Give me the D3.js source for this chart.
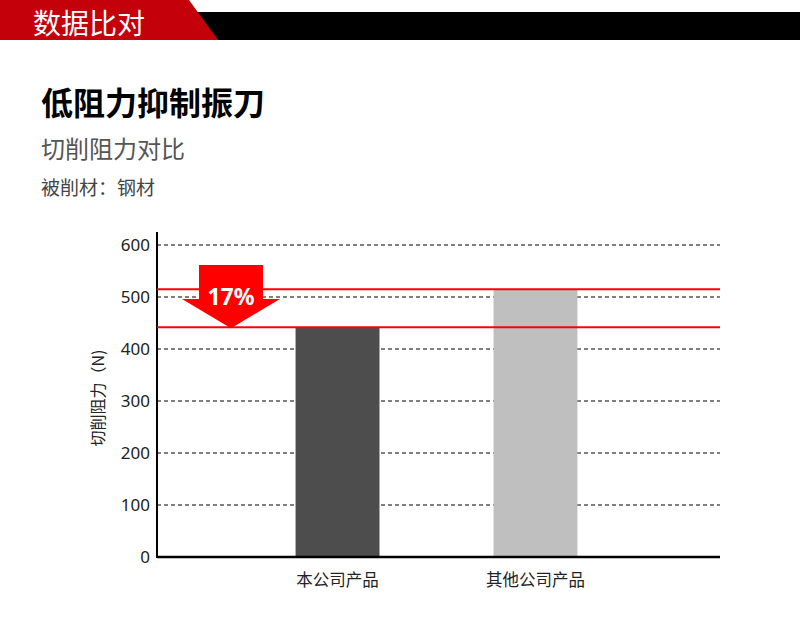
<!DOCTYPE html>
<html>
<head>
<meta charset="utf-8">
<script src="https://cdn.jsdelivr.net/npm/d3@7"></script>
<style>
  body { margin: 0; background: #fff; }
  svg { display: block; font-family: "Noto Sans CJK SC", "Noto Sans", sans-serif; }
</style>
</head>
<body>
<svg id="chart" width="800" height="627"></svg>
<script>
// data
const categories = ['本公司产品', '其他公司产品'];
const values = [442, 515];
const barColors = ['#4d4d4d', '#bfbfbf'];
const yTicks = [0, 100, 200, 300, 400, 500, 600];
const reductionLabel = '17%';

const svg = d3.select('#chart');

// --- header band ---
svg.append('rect').attr('x', 190).attr('y', 12).attr('width', 610).attr('height', 28).attr('fill', '#000');
svg.append('path').attr('d', 'M0,0 L189,0 L218,40 L0,40 Z').attr('fill', '#c4000b');
svg.append('text').attr('x', 33).attr('y', 34)
  .attr('fill', '#fff').attr('font-size', 28).text('数据比对');

// --- titles ---
svg.append('text').attr('x', 41).attr('y', 115)
  .attr('font-size', 32).attr('font-weight', 'bold').attr('fill', '#000').text('低阻力抑制振刀');
svg.append('text').attr('x', 41).attr('y', 158)
  .attr('font-size', 24).attr('fill', '#555').text('切削阻力对比');
svg.append('text').attr('x', 41).attr('y', 195)
  .attr('font-size', 19).attr('fill', '#444').text('被削材：钢材');

// --- chart ---
const plotLeft = 157, plotRight = 720, plotTop = 245, plotBottom = 557;

const y = d3.scaleLinear().domain([0, 600]).range([plotBottom, plotTop]);
const x = d3.scaleBand().domain(categories).range([plotLeft, plotRight - 4])
  .paddingInner(0.576).paddingOuter(0.7);

// gridlines
svg.append('g').selectAll('line').data(yTicks.filter(t => t > 0)).join('line')
  .attr('x1', plotLeft).attr('x2', plotRight)
  .attr('y1', d => y(d)).attr('y2', d => y(d))
  .attr('stroke', '#000').attr('stroke-width', 1).attr('stroke-dasharray', '4,3');

// bars
svg.append('g').selectAll('rect').data(values).join('rect')
  .attr('x', (d, i) => x(categories[i]))
  .attr('width', x.bandwidth())
  .attr('y', d => y(d))
  .attr('height', d => plotBottom - y(d))
  .attr('fill', (d, i) => barColors[i]);

// y axis
const yAxis = d3.axisLeft(y).tickValues(yTicks).tickSize(0).tickPadding(7);
const gy = svg.append('g').attr('transform', `translate(${plotLeft},0)`).call(yAxis);
gy.select('.domain').remove();
gy.selectAll('text').attr('font-size', 17).attr('fill', '#222')
  .attr('font-family', '"Noto Sans", sans-serif');
svg.append('line').attr('x1', plotLeft).attr('x2', plotLeft).attr('y1', 232).attr('y2', plotBottom + 1)
  .attr('stroke', '#000').attr('stroke-width', 2);
svg.append('line').attr('x1', plotLeft).attr('x2', plotRight).attr('y1', plotBottom).attr('y2', plotBottom)
  .attr('stroke', '#000').attr('stroke-width', 2.5);

// x labels
svg.append('g').selectAll('text').data(categories).join('text')
  .attr('x', d => x(d) + x.bandwidth() / 2).attr('y', 586)
  .attr('text-anchor', 'middle').attr('font-size', 16.5).attr('fill', '#222').text(d => d);

// y label
svg.append('text').attr('transform', `translate(104,398) rotate(-90)`)
  .attr('text-anchor', 'middle').attr('font-size', 16).attr('fill', '#222').text('切削阻力（N)');

// reference lines at the two bar heights
svg.append('g').selectAll('line').data(values).join('line')
  .attr('x1', plotLeft).attr('x2', plotRight)
  .attr('y1', d => y(d)).attr('y2', d => y(d))
  .attr('stroke', '#ff0000').attr('stroke-width', 2);

// down arrow
const ax = 231, aTop = 265, aTip = y(values[0]) + 1;
const headY = 299;
svg.append('path')
  .attr('d', `M${ax - 32},${aTop} L${ax + 32},${aTop} L${ax + 32},${headY} L${ax + 49},${headY} L${ax},${aTip} L${ax - 49},${headY} L${ax - 32},${headY} Z`)
  .attr('fill', '#ff0000');
svg.append('text').attr('x', ax).attr('y', 305)
  .attr('text-anchor', 'middle').attr('font-size', 23).attr('font-weight', 'bold')
  .attr('fill', '#fff').attr('font-family', '"Noto Sans", sans-serif').text(reductionLabel);
</script>
</body>
</html>
